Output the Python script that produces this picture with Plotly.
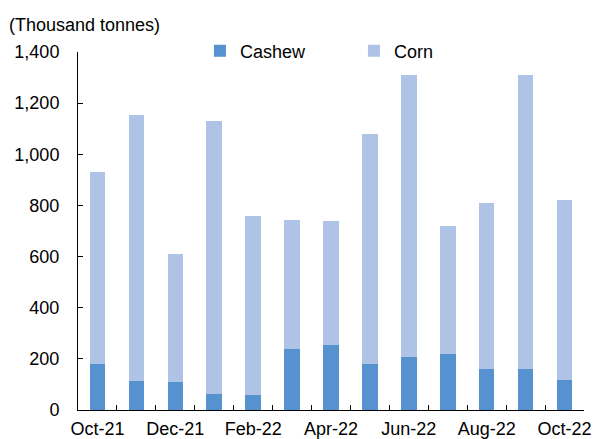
import plotly.graph_objects as go

months = ["Oct-21", "Nov-21", "Dec-21", "Jan-22", "Feb-22", "Mar-22", "Apr-22",
          "May-22", "Jun-22", "Jul-22", "Aug-22", "Sep-22", "Oct-22"]
cashew = [180, 115, 109, 63, 59, 238, 254, 180, 208, 220, 160, 160, 118]
corn = [750, 1038, 501, 1067, 701, 505, 485, 899, 1102, 500, 650, 1150, 703]
tick_labels = [m if i % 2 == 0 else "" for i, m in enumerate(months)]

FONT = "Liberation Sans, Arial, sans-serif"

fig = go.Figure()
fig.add_trace(go.Bar(x=months, y=cashew, name="Cashew", marker_color="#5592CF",
                     marker_line_width=0))
fig.add_trace(go.Bar(x=months, y=corn, name="Corn", marker_color="#AEC3E6",
                     marker_line_width=0))

fig.update_layout(
    barmode="stack",
    bargap=0.6,
    width=593, height=439,
    paper_bgcolor="white", plot_bgcolor="white",
    margin=dict(l=78, r=9, t=52, b=29, autoexpand=False),
    font=dict(family=FONT, size=18, color="#000000"),
    legend=dict(orientation="h", traceorder="normal", x=0.241, y=1.054,
                xanchor="left", yanchor="top",
                entrywidth=109, entrywidthmode="pixels",
                bgcolor="rgba(0,0,0,0)", font=dict(size=18)),
    annotations=[dict(text="(Thousand tonnes)", xref="paper", yref="paper",
                      x=-0.1404, y=1.076, xanchor="left", yanchor="middle",
                      showarrow=False, font=dict(size=18))],
)
fig.update_xaxes(
    type="category", tickmode="array", tickvals=months, ticktext=tick_labels,
    tickson="boundaries", ticks="inside", ticklen=5, tickcolor="#000",
    showline=True, linecolor="#000", linewidth=1, showgrid=False,
    tickangle=0, automargin=False, ticklabelstandoff=2,
)
fig.update_yaxes(
    range=[0, 1400], dtick=200, tickformat=",", ticks="inside", ticklen=5,
    tickcolor="#000", showline=True, linecolor="#000", linewidth=1,
    showgrid=False, zeroline=False, ticklabelstandoff=14, automargin=False,
)

# drop the default 8px body margin so the figure fills the window exactly
fig.write_html("out.html", config={"displayModeBar": False},
               post_script="document.body.style.margin='0';")
